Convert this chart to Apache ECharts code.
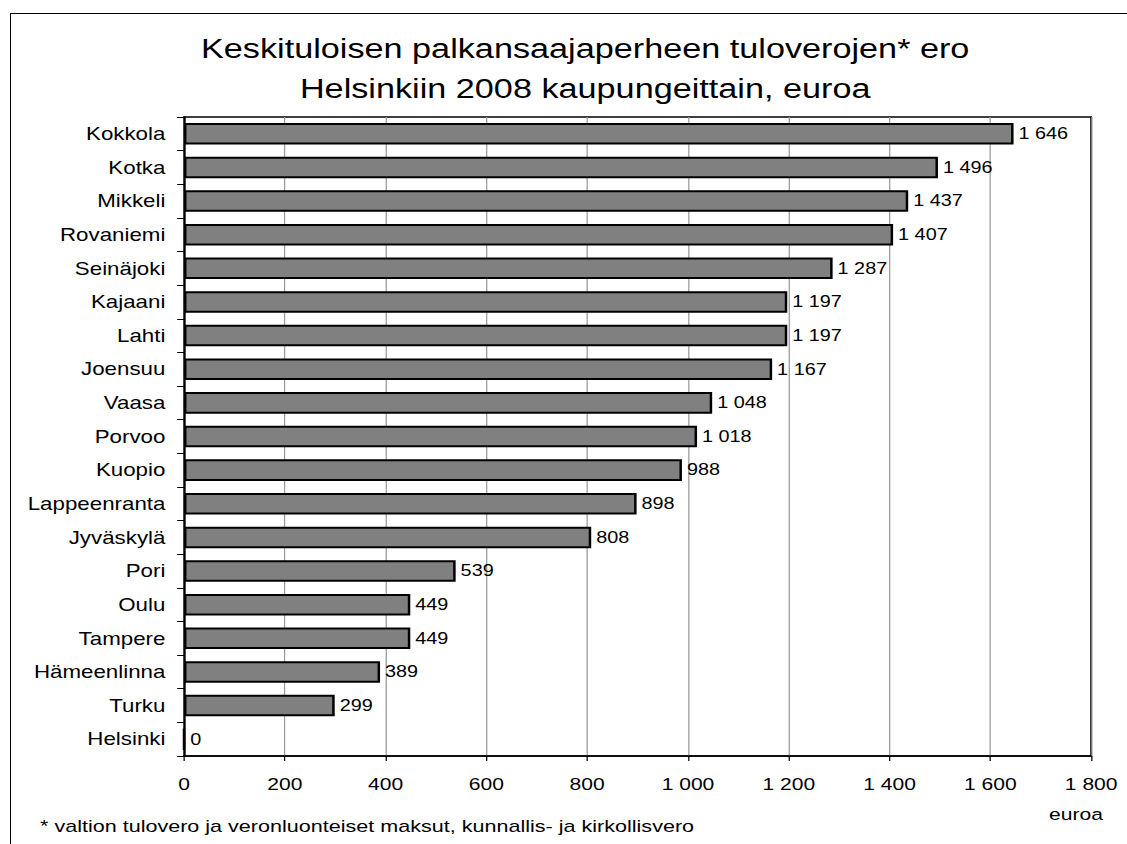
<!DOCTYPE html>
<html><head><meta charset="utf-8">
<script src="https://cdn.jsdelivr.net/npm/echarts@6/dist/echarts.min.js"></script>
<style>
html,body{margin:0;padding:0;background:#fff;overflow:hidden}
#frame{position:absolute;left:10px;top:13px;width:1200px;height:900px;border:1.5px solid #000;box-sizing:border-box}
#c{position:absolute;left:0;top:0;height:844px;transform-origin:0 0}
</style></head>
<body><div id="frame"></div><div id="c"></div>
<script>
const cities = ["Kokkola","Kotka","Mikkeli","Rovaniemi","Seinäjoki","Kajaani","Lahti","Joensuu","Vaasa","Porvoo","Kuopio","Lappeenranta","Jyväskylä","Pori","Oulu","Tampere","Hämeenlinna","Turku","Helsinki"];
const values = [1646,1496,1437,1407,1287,1197,1197,1167,1048,1018,988,898,808,539,449,449,389,299,0];
const xTicks = [0,200,400,600,800,1000,1200,1400,1600,1800];
const titleText = "Keskituloisen palkansaajaperheen tuloverojen* ero\nHelsinkiin 2008 kaupungeittain, euroa";
const footnote = "* valtion tulovero ja veronluonteiset maksut, kunnallis- ja kirkollisvero";
const unitLabel = "euroa";

// the reference text is horizontally stretched; reproduce by scaling the chart box
const S = 1.24;
const el = document.getElementById('c');
el.style.width = (1127 / S) + 'px';
el.style.transform = 'scaleX(' + S + ')';

const fmt = v => String(v).replace(/\B(?=(\d{3})+(?!\d))/g, ' ');
const F = "'Liberation Sans', Arial, sans-serif";
const chart = echarts.init(el, null, {renderer:'svg'});
chart.setOption({
  animation:false,
  title:{text:titleText,left:579/S,textAlign:'center',top:24,textStyle:{fontFamily:F,fontSize:27.6,fontWeight:'normal',color:'#000',lineHeight:40}},
  grid:{left:184/S,top:117,right:36/S,bottom:88,show:true,borderColor:'#000',borderWidth:1.5,backgroundColor:'transparent'},
  xAxis:{type:'value',min:xTicks[0],max:xTicks[xTicks.length-1],interval:xTicks[1]-xTicks[0],
    axisLine:{show:true,lineStyle:{color:'#000',width:1.5}},
    axisTick:{show:true,length:5,lineStyle:{color:'#000'}},
    splitLine:{show:true,lineStyle:{color:'#999',width:1}},
    axisLabel:{formatter:v=>fmt(v),fontFamily:F,fontSize:17,color:'#000',margin:20}},
  yAxis:{type:'category',data:cities,inverse:true,
    axisLine:{show:true,lineStyle:{color:'#000',width:1.5}},
    axisTick:{show:true,length:5.5,inside:false,lineStyle:{color:'#000'}},
    axisLabel:{fontFamily:F,fontSize:18,color:'#000',margin:15},
    splitLine:{show:false}},
  series:[{type:'bar',data:values,barWidth:'64%',
    itemStyle:{color:'#808080',borderColor:'#000',borderWidth:2},
    label:{show:true,position:'right',distance:4,formatter:p=>fmt(p.value),fontFamily:F,fontSize:16,color:'#000'}}],
  graphic:[
    {type:'text',left:40/S,top:817,style:{text:footnote,fontFamily:F,fontSize:17.4,fill:'#000'}},
    {type:'text',left:1049/S,top:806,style:{text:unitLabel,fontFamily:F,fontSize:17,fill:'#000'}}
  ]
});
</script></body></html>
